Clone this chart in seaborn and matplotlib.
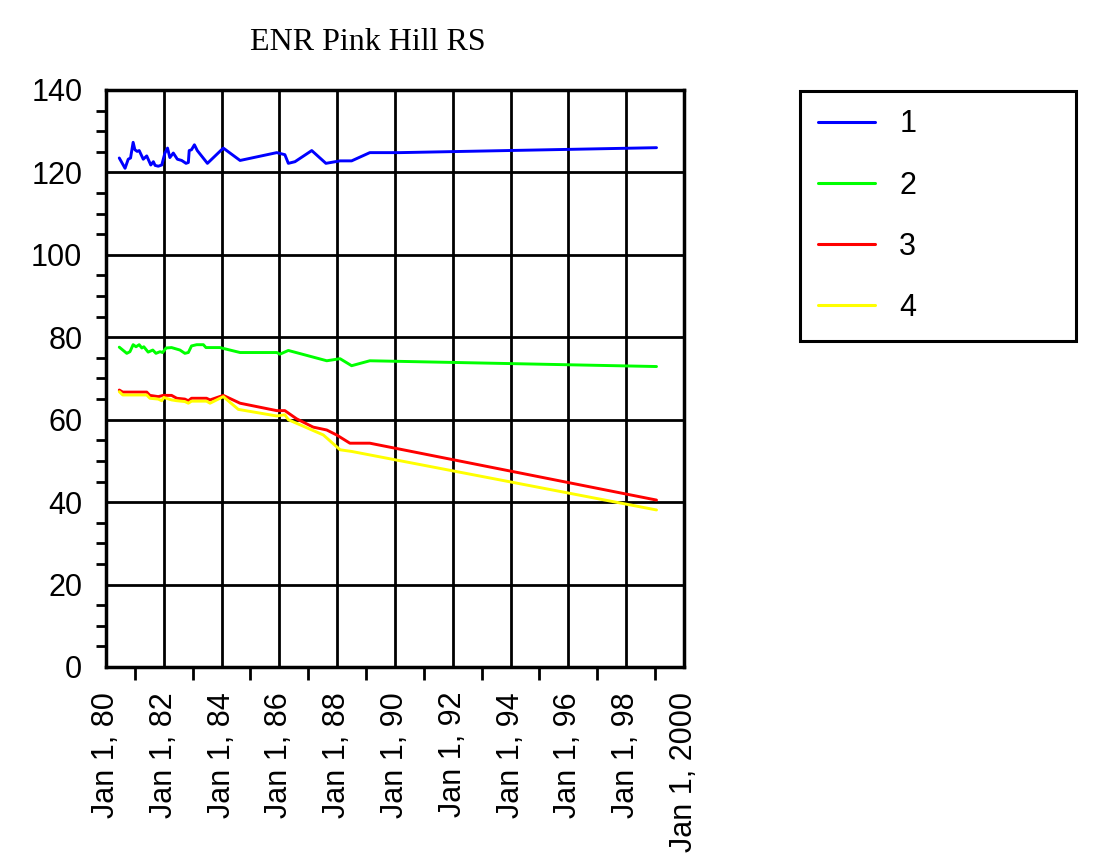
import pandas as pd
import matplotlib
matplotlib.use('Agg')
import matplotlib.pyplot as plt
import seaborn as sns
from matplotlib.ticker import MultipleLocator

# data (x in decimal years)
x1 = [1980.46, 1980.66, 1980.77, 1980.85, 1980.94, 1981.00, 1981.08, 1981.15, 1981.29,
      1981.41, 1981.55, 1981.64, 1981.70, 1981.81, 1981.93, 1982.04, 1982.13, 1982.21,
      1982.33, 1982.47, 1982.62, 1982.77, 1982.85, 1982.88, 1982.96, 1983.06, 1983.16,
      1983.51, 1984.06, 1984.64, 1985.91, 1986.19, 1986.31, 1986.54, 1987.12, 1987.61,
      1988.10, 1988.50, 1989.13, 1990.17, 1999.05]
y1 = [123.5, 121.0, 123.2, 123.5, 127.3, 125.5, 125.1, 125.3, 123.2,
      124.0, 121.8, 122.6, 121.7, 121.5, 121.8, 124.7, 125.9, 123.6,
      124.7, 123.2, 122.9, 122.2, 122.4, 125.3, 125.5, 126.7, 125.3,
      122.2, 125.9, 122.9, 124.8, 124.3, 122.2, 122.6, 125.3, 122.2,
      122.8, 122.8, 124.8, 124.8, 126.0]

x2 = [1980.46, 1980.72, 1980.83, 1980.94, 1981.04, 1981.15, 1981.24, 1981.31, 1981.46,
      1981.62, 1981.73, 1981.87, 1981.96, 1982.08, 1982.27, 1982.56, 1982.73, 1982.85,
      1982.96, 1983.14, 1983.37, 1983.46, 1983.94, 1984.64, 1985.91, 1986.02, 1986.31,
      1987.64, 1988.10, 1988.50, 1989.13, 1999.05]
y2 = [77.6, 76.1, 76.5, 78.2, 77.7, 78.2, 77.4, 77.7, 76.4,
      76.9, 76.1, 76.5, 76.3, 77.4, 77.5, 76.9, 76.1, 76.3,
      77.9, 78.2, 78.2, 77.5, 77.5, 76.3, 76.3, 75.9, 76.8,
      74.3, 74.8, 73.1, 74.3, 72.9]

x3 = [1980.46, 1980.58, 1981.41, 1981.52, 1981.81, 1981.98, 1982.27, 1982.45, 1982.73,
      1982.85, 1982.96, 1983.48, 1983.60, 1984.06, 1984.64, 1985.91, 1986.19, 1986.60,
      1987.17, 1987.64, 1987.98, 1988.44, 1989.13, 1999.05]
y3 = [67.2, 66.7, 66.7, 65.9, 65.6, 65.9, 65.9, 65.2, 65.0,
      64.6, 65.2, 65.2, 64.8, 65.9, 64.0, 62.2, 62.2, 60.2,
      58.2, 57.5, 56.3, 54.3, 54.3, 40.5]

x4 = [1980.46, 1980.58, 1981.41, 1981.52, 1981.81, 1981.93, 1982.00, 1982.27, 1982.45,
      1982.73, 1982.85, 1982.96, 1983.48, 1983.60, 1984.06, 1984.58, 1985.91, 1986.19,
      1986.31, 1987.52, 1988.10, 1988.50, 1999.05]
y4 = [66.8, 66.0, 66.0, 65.2, 65.0, 64.6, 65.4, 64.8, 64.6,
      64.4, 64.0, 64.5, 64.5, 64.0, 65.6, 62.5, 60.9, 61.2,
      60.0, 56.3, 52.7, 52.3, 38.1]

series_names = ['1', '2', '3', '4']
colors = ['#0000ff', '#00ff00', '#ff0000', '#ffff00']
tick_years = list(range(1980, 2001, 2))
tick_labels = ['Jan 1, %02d' % (y % 100) for y in tick_years[:-1]] + ['Jan 1, 2000']

frames = []
for name, xs, ys in zip(series_names, [x1, x2, x3, x4], [y1, y2, y3, y4]):
    frames.append(pd.DataFrame({'year': xs, 'value': ys, 'series': name}))
df = pd.concat(frames, ignore_index=True)

sns.set_style('white')
plt.rcParams['font.family'] = ['Liberation Sans', 'DejaVu Sans']
plt.rcParams['text.color'] = 'black'

fig = plt.figure(figsize=(10.97, 8.66), dpi=100)
ax = fig.add_axes([0.0966, 0.2298, 0.5269, 0.6663])

sns.lineplot(data=df, x='year', y='value', hue='series',
             palette=dict(zip(series_names, colors)), linewidth=2.1, ax=ax)

ax.set_xlim(1980, 2000)
ax.set_ylim(0, 140)
ax.set_xticks(tick_years)
ax.set_xticklabels(tick_labels, rotation=90)
ax.xaxis.set_minor_locator(MultipleLocator(1))
ax.yaxis.set_major_locator(MultipleLocator(20))
ax.yaxis.set_minor_locator(MultipleLocator(5))
ax.set_xlabel('')
ax.set_ylabel('')

ax.grid(True, which='major', color='black', linewidth=2)
ax.set_axisbelow(True)
for s in ax.spines.values():
    s.set_color('black')
    s.set_linewidth(2.5)
ax.tick_params(axis='both', which='both', direction='out', colors='black',
               width=2, labelsize=22, labelcolor='black')
ax.tick_params(axis='x', which='major', length=16, pad=2)
ax.tick_params(axis='x', which='minor', length=9, bottom=True)
ax.tick_params(axis='y', which='major', length=12, pad=5)
ax.tick_params(axis='y', which='minor', length=7, left=True)

fig.text(368 / 1097, 1 - 42 / 866, 'ENR Pink Hill RS', color='black',
         family='Liberation Serif', fontsize=23, ha='center', va='center')

handles, labels = ax.get_legend_handles_labels()
ax.get_legend().remove()
for h in handles:
    h.set_linewidth(2.2)
leg = fig.legend(handles, labels, loc='upper left',
                 bbox_to_anchor=(800 / 1097, 1 - 91 / 866 - 0.01, 276 / 1097, 0.01),
                 mode='expand', fontsize=22, frameon=True, fancybox=False,
                 handlelength=1.85, handletextpad=0.8, labelspacing=1.02,
                 borderpad=0.6, borderaxespad=0)
leg.get_frame().set_edgecolor('black')
leg.get_frame().set_linewidth(2.2)
leg.get_frame().set_alpha(1)

fig.savefig('out.png', dpi=100)
